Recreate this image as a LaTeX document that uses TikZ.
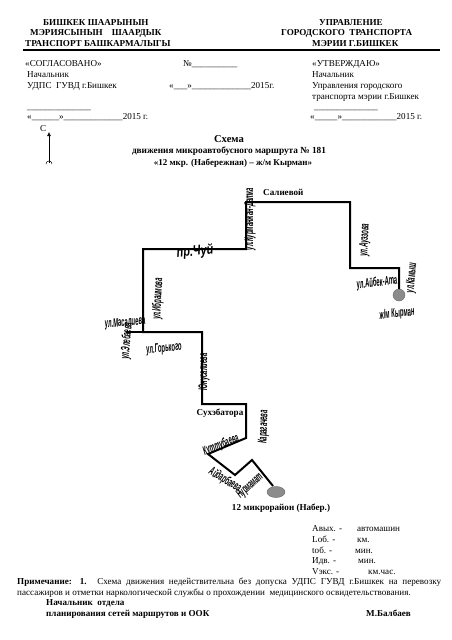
\documentclass[tikz,border=0pt]{standalone}
\usepackage{fontspec}
\setmainfont{Liberation Serif}
\newfontfamily\streetfont{Liberation Sans}
\usetikzlibrary{shapes.geometric, arrows.meta}
\tikzset{
  doc/.style    = {anchor=base west, inner sep=0pt, font=\fontsize{9.1}{10}\selectfont},
  docb/.style   = {doc, font=\fontsize{9.1}{10}\selectfont\bfseries},
  title/.style  = {anchor=base, inner sep=0pt, font=\fontsize{9}{10}\selectfont\bfseries},
  street/.style = {inner sep=0pt, font=\fontsize{12.5}{12.5}\selectfont\streetfont\itshape\bfseries, rotate=#1, xscale=0.47},
  route/.style  = {line width=2pt, draw=black, line join=miter},
  stop/.style   = {fill=black!45, draw=black!60, inner sep=0pt},
  north/.style  = {-{Latex[length=4pt,width=4pt]}, line width=0.6pt}
}
\begin{document}
\begin{tikzpicture}[x=1pt, y=-1pt]
\useasboundingbox (0,0) rectangle (452,640);
% header
\node[docb] at ( 43, 25) (h1) {БИШКЕК ШААРЫНЫН};
\node[docb] at ( 30, 35) (h2) {МЭРИЯСЫНЫН\quad ШААРДЫК};
\node[docb] at ( 25, 46) (h3) {ТРАНСПОРТ БАШКАРМАЛЫГЫ};
\node[docb] at (319, 25) (h4) {УПРАВЛЕНИЕ};
\node[docb] at (281, 35) (h5) {ГОРОДСКОГО\ \ ТРАНСПОРТА};
\node[docb] at (312, 46) (h6) {МЭРИИ Г.БИШКЕК};
\coordinate (ruleL) at (23,50);
\coordinate (ruleR) at (440,50);
\draw[line width=2.6pt] (ruleL) -- (ruleR);
% approvals
\node[doc] at ( 25, 66) (a1) {«СОГЛАСОВАНО»};
\node[doc] at ( 27, 77) (a2) {Начальник};
\node[doc] at ( 27, 88) (a3) {УДПС\ \ ГУВД г.Бишкек};
\node[doc] at ( 27,109) (a4) {\_\_\_\_\_\_\_\_\_\_\_\_\_\_};
\node[doc] at ( 27,119) (a5) {«\_\_\_\_\_\_»\_\_\_\_\_\_\_\_\_\_\_\_\_2015 г.};
\node[doc] at (183, 66) (m1) {№\_\_\_\_\_\_\_\_\_\_};
\node[doc] at (169, 88) (m2) {«\_\_\_»\_\_\_\_\_\_\_\_\_\_\_\_\_2015г.};
\node[doc] at (312, 66) (b1) {«УТВЕРЖДАЮ»};
\node[doc] at (312, 77) (b2) {Начальник};
\node[doc] at (312, 88) (b3) {Управления городского};
\node[doc] at (312, 99) (b4) {транспорта мэрии г.Бишкек};
\node[doc] at (314,109) (b5) {\_\_\_\_\_\_\_\_\_\_\_\_\_\_};
\node[doc] at (310,119) (b6) {«\_\_\_\_\_»\_\_\_\_\_\_\_\_\_\_\_\_2015 г.};
% north sign
\node[doc] at ( 40,131) (c) {С};
\coordinate (nb) at (49,163);
\coordinate (nt) at (49,132);
\draw[north] (nb) -- (nt);
\draw[line width=0.5pt] (46,164) arc (180:360:3);
% title
\node[title, font=\fontsize{10.6}{10}\selectfont\bfseries] at (229,142) (t1) {Схема};
\node[title, font=\fontsize{9.3}{10}\selectfont\bfseries] at (229,153) (t2) {движения микроавтобусного маршрута № 181};
\node[title] at (233,165) (t3) {«12 мкр. (Набережная) – ж/м Кырман»};
% route
\node[stop, circle, minimum size=12pt] at (399,295) (kyrman) {};
\node[stop, ellipse, minimum width=18pt, minimum height=11pt] at (276,492) (mkr) {};
\coordinate (p1) at (399,268);
\coordinate (p2) at (350,268);
\coordinate (p3) at (350,202);
\coordinate (p4) at (246,202);
\coordinate (p5) at (246,249);
\coordinate (p6) at (143,249);
\coordinate (p7) at (143,332);
\coordinate (p8) at (202,332);
\coordinate (p9) at (202,404);
\coordinate (p10) at (246,404);
\coordinate (p11) at (246,438);
\coordinate (p12) at (208,454);
\coordinate (p13) at (235,475);
\coordinate (p14) at (252,460);
\coordinate (p15) at (273,486);
\coordinate (p16) at (126,332);
\draw[route] (kyrman) -- (p1) -- (p2) -- (p3) -- (p4) -- (p5) -- (p6) -- (p7) -- (p8) -- (p9)
      -- (p10) -- (p11) -- (p12) -- (p13) -- (p14) -- (p15);
\draw[route] (p16) -- (p7);
% streets
\node[docb] at (263,195) (s1) {Салиевой};
\node[docb, anchor=center] at (220,413) (s2) {Сухэбатора};
\node[docb, anchor=center] at (281,508) (s3) {12 микрорайон (Набер.)};
\node[street=90] at (250,219) (n1) {ул.Курманжан-Датка};
\node[street=87] at (365,240) (n2) {ул.Ауэзова};
\node[street=7]  at (377,283) (n3) {ул.Айбек-Ата};
\node[street=85] at (412,278) (n4) {ул.Камыш};
\node[street=6]  at (397,314) (n5) {ж/м Кырман};
\node[street=6, font=\fontsize{14}{14}\selectfont\streetfont\itshape\bfseries, xscale=1.65] at (195,252) (n6) {пр.Чуй};
\node[street=87] at (158,299) (n7) {ул.Ибраимова};
\node[street=5]  at (125,323) (n8) {ул.Масалиева};
\node[street=85] at (127,341) (n9) {ул.Элебаева};
\node[street=6]  at (164,349) (n10) {ул.Горького};
\node[street=90] at (204,372) (n11) {Юнусалиева};
\node[street=88] at (264,427) (n12) {Карагачева};
\node[street=22] at (221,445) (n13) {Куттубаева};
\node[street=-31] at (225,480) (n14) {Айдарбаева};
\node[street=43] at (250,486) (n15) {Нурмамат};
% parameters
\node[doc] at (312,531) (v1) {Авых. -};
\node[doc] at (357,531) (w1) {автомашин};
\node[doc] at (312,542) (v2) {Lоб. -};
\node[doc] at (357,542) (w2) {км.};
\node[doc] at (312,553) (v3) {tоб. -};
\node[doc] at (355,553) (w3) {мин.};
\node[doc] at (312,563) (v4) {Идв. -};
\node[doc] at (358,563) (w4) {мин.};
\node[doc] at (312,574) (v5) {Vэкс. -};
\node[doc] at (368,574) (w5) {км.час.};
% note
\node[doc] at (17,584) (r1) {\makebox[424pt][s]{\textbf{Примечание: 1.} Схема движения недействительна без допуска УДПС ГУВД г.Бишкек на перевозку}};
\node[doc] at (17,595) (r2) {пассажиров и отметки наркологической службы о прохождении\ \ медицинского освидетельствования.};
\node[docb] at (46,605) (r3) {Начальник\ \ отдела};
\node[docb] at (46,616) (r4) {планирования сетей маршрутов и ООК};
\node[docb] at (366,616) (r5) {М.Балбаев};
\end{tikzpicture}
\end{document}
